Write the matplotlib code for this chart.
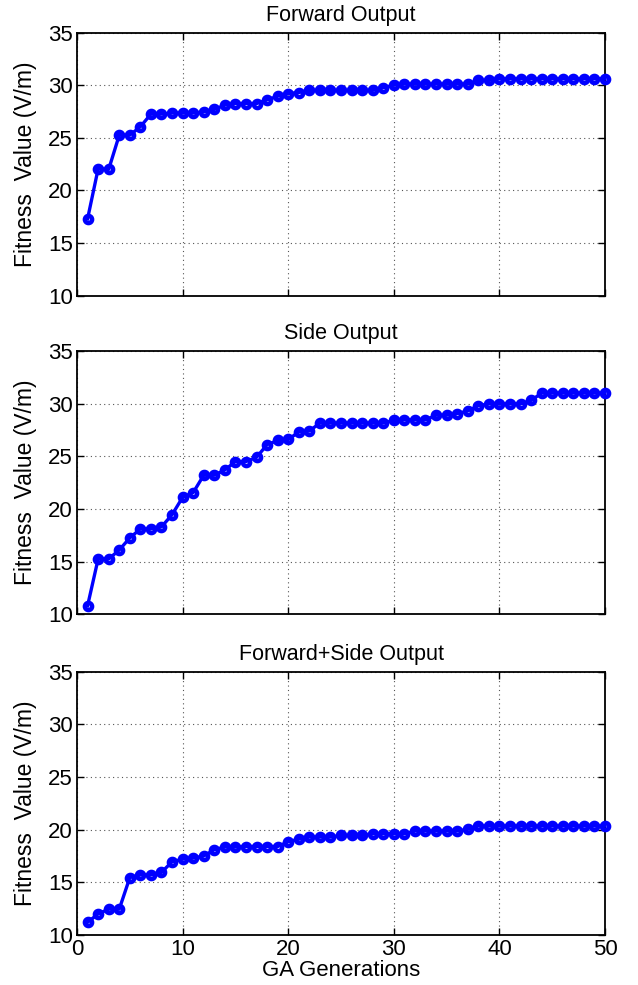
import matplotlib
matplotlib.use("Agg")
import matplotlib.pyplot as plt
import numpy as np

generations = list(range(1, 51))

forward = [17.3, 22.05, 22.0, 25.25, 25.25, 26.05, 27.25, 27.25, 27.35, 27.35,
           27.35, 27.45, 27.7, 28.1, 28.25, 28.25, 28.25, 28.6, 28.95, 29.2,
           29.3, 29.5, 29.5, 29.5, 29.5, 29.5, 29.5, 29.5, 29.75, 30.0,
           30.1, 30.1, 30.1, 30.1, 30.1, 30.1, 30.1, 30.45, 30.45, 30.6,
           30.6, 30.6, 30.6, 30.6, 30.6, 30.6, 30.6, 30.6, 30.6, 30.6]

side = [10.8, 15.25, 15.25, 16.1, 17.25, 18.1, 18.1, 18.3, 19.45, 21.1,
        21.55, 23.2, 23.2, 23.7, 24.5, 24.5, 24.9, 26.1, 26.5, 26.6,
        27.3, 27.4, 28.15, 28.15, 28.15, 28.15, 28.15, 28.15, 28.15, 28.4,
        28.45, 28.45, 28.45, 28.9, 28.9, 29.05, 29.3, 29.8, 29.97, 29.97,
        29.97, 29.97, 30.3, 31.0, 31.0, 31.0, 31.0, 31.0, 31.0, 31.0]

fwd_side = [11.2, 12.0, 12.45, 12.45, 15.45, 15.7, 15.7, 15.95, 16.95, 17.2,
            17.3, 17.5, 18.1, 18.35, 18.35, 18.4, 18.4, 18.4, 18.4, 18.85,
            19.1, 19.3, 19.3, 19.3, 19.45, 19.45, 19.45, 19.6, 19.6, 19.6,
            19.6, 19.87, 19.87, 19.87, 19.87, 19.87, 20.03, 20.35, 20.35, 20.35,
            20.35, 20.35, 20.35, 20.35, 20.35, 20.35, 20.35, 20.35, 20.35, 20.35]

titles = ["Forward Output", "Side Output", "Forward+Side Output"]
series = [forward, side, fwd_side]
yticks = [10, 15, 20, 25, 30, 35]
xticks = [0, 10, 20, 30, 40, 50]

plt.rcParams['font.family'] = ['Liberation Sans', 'DejaVu Sans']

fig = plt.figure(figsize=(6.38, 9.85), dpi=100)
left, width = 0.1207, 0.8276
boxes = [(0.6998, 0.967), (0.3764, 0.6437), (0.0508, 0.318)]

for i, (title, vals) in enumerate(zip(titles, series)):
    b, t = boxes[i]
    ax = fig.add_axes([left, b, width, t - b])
    ax.plot(generations, vals, color='#0000ff', linewidth=2.4, marker='o',
            markersize=5.2, markeredgewidth=3.2, markerfacecolor='none',
            markeredgecolor='#0000ff', zorder=3, clip_on=False)
    ax.set_xlim(0, 50)
    ax.set_ylim(10, 35)
    ax.set_yticks(yticks)
    ax.set_xticks(xticks)
    ax.grid(True, linestyle=(0, (1, 3)), color='#555555', linewidth=0.8)
    ax.tick_params(direction='in', length=5, width=1, top=True, right=True,
                   labelsize=16, pad=3)
    for s in ax.spines.values():
        s.set_linewidth(1.3)
    ax.set_title(title, fontsize=15.5, pad=8.5)
    ax.set_ylabel("Fitness  Value (V/m)", fontsize=16.5, labelpad=8)
    if i < 2:
        ax.tick_params(labelbottom=False)
    else:
        ax.set_xlabel("GA Generations", fontsize=16, labelpad=0)

fig.savefig("out.png", dpi=100)
